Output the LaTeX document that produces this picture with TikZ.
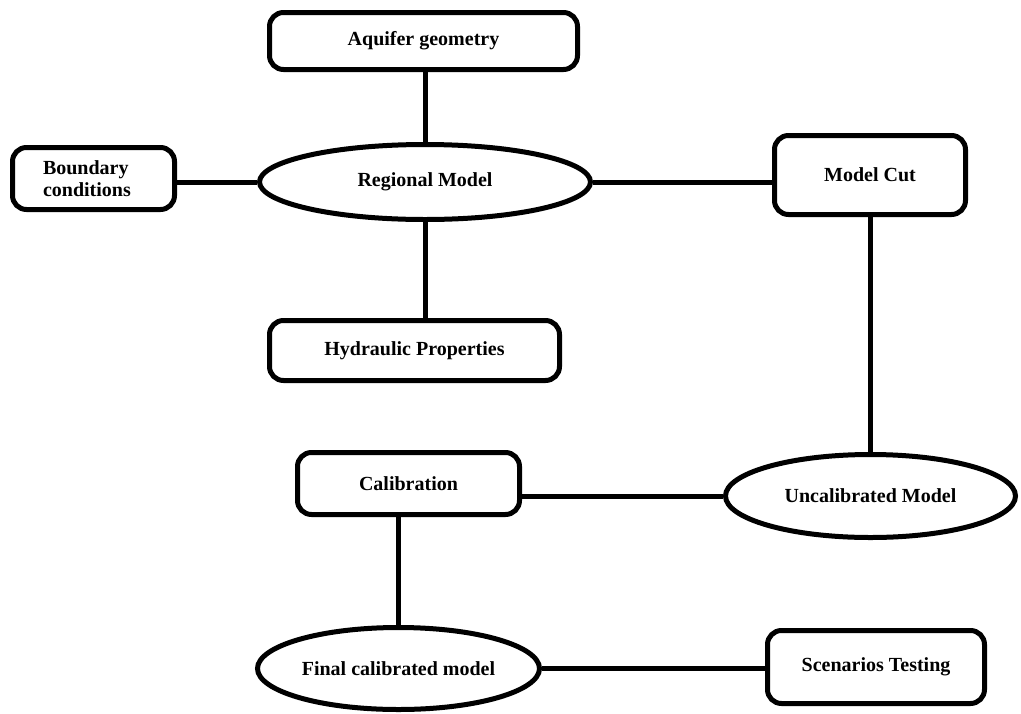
\documentclass[tikz,border=0pt]{standalone}
\usepackage{fontspec}
\setmainfont{Liberation Serif}
\usetikzlibrary{shapes,positioning}

\tikzset
{
	box/.style =
	{
		draw,
		line width		= 5pt,
		rounded corners	= 14pt,
		inner sep		= 0pt,
		align			= center,
		font			= \bfseries\fontsize{20}{22}\selectfont
	},
	oval/.style =
	{
		draw,
		ellipse,
		line width		= 5pt,
		inner sep		= 0pt,
		align			= center,
		font			= \bfseries\fontsize{20}{22}\selectfont
	},
	link/.style =
	{
		line width		= 5pt
	}
}

\begin{document}
\begin{tikzpicture}[x=1pt,y=-1pt]
		%
		\useasboundingbox (0,0) rectangle (1021,713);
		%
		\node [box, minimum width = 308pt, minimum height = 57pt] (aquifer) at (423.5,41) {Aquifer geometry};
		\node [box, minimum width = 162pt, minimum height = 62pt, text width = 101pt, inner xsep = 30.5pt, align = left] (boundary) at (93.5,178.5) {Boundary\\conditions};
		\node [oval, minimum width = 331pt, minimum height = 75pt] (regional) at (425,182) {Regional Model};
		\node [box, minimum width = 191pt, minimum height = 79pt] (modelcut) at (870,175) {Model Cut};
		\node [box, minimum width = 290pt, minimum height = 60pt] (hydraulic) at (414.5,350.5) {Hydraulic Properties};
		\node [box, minimum width = 222pt, minimum height = 62pt] (calib) at (408.5,483.5) {Calibration};
		\node [oval, minimum width = 290pt, minimum height = 83pt] (uncalib) at (870.5,496) {Uncalibrated Model};
		\node [oval, minimum width = 282pt, minimum height = 82pt] (final) at (398.5,668.5) {Final calibrated model};
		\node [box, minimum width = 217pt, minimum height = 73pt] (scenarios) at (876,667) {Scenarios Testing};
		%
		\draw [link] (regional.north) -- (regional.north |- aquifer.south);
		\draw [link] (regional.west) -- (regional.west -| boundary.east);
		\draw [link] (regional.east) -- (regional.east -| modelcut.west);
		\draw [link] (regional.south) -- (regional.south |- hydraulic.north);
		\draw [link] (modelcut.south) -- (modelcut.south |- uncalib.north);
		\draw [link] (uncalib.west) -- (uncalib.west -| calib.east);
		\draw [link] (final.north) -- (final.north |- calib.south);
		\draw [link] (final.east) -- (final.east -| scenarios.west);
		%
	\end{tikzpicture}
\end{document}
